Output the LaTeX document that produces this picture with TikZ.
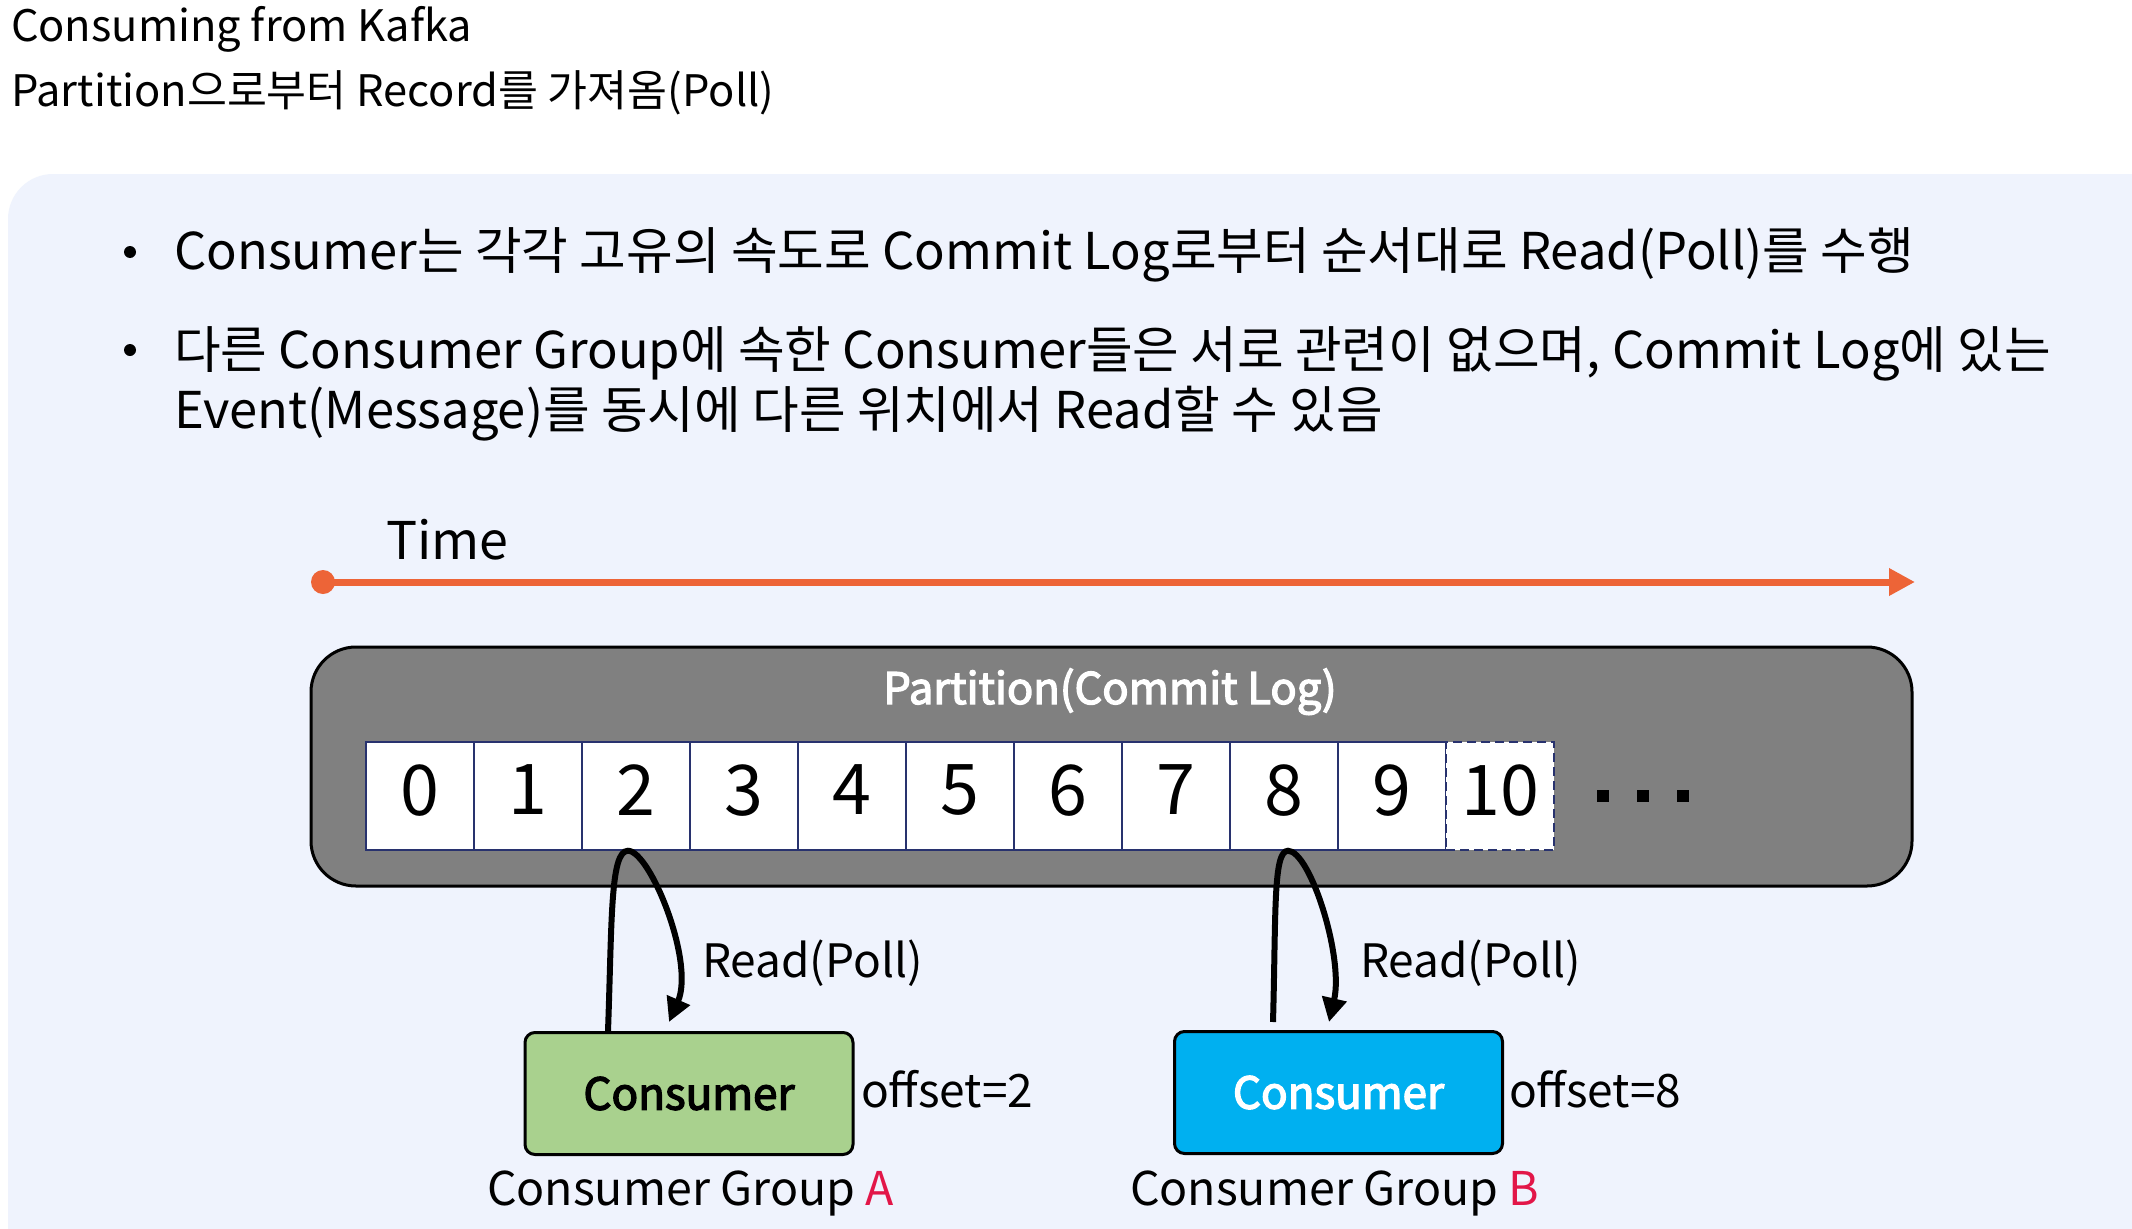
\documentclass[tikz,border=0pt]{standalone}
\usepackage{fontspec}
\setmainfont{Noto Sans CJK KR}
\newfontfamily\medfont{Noto Sans CJK KR}[FakeBold=3]
\usetikzlibrary{arrows.meta}
\definecolor{panelbg}{RGB}{239,243,253}
\definecolor{timeorange}{RGB}{237,100,55}
\definecolor{partgray}{RGB}{128,128,128}
\definecolor{cellnavy}{RGB}{40,50,110}
\definecolor{consgreen}{RGB}{169,209,142}
\definecolor{consblue}{RGB}{0,176,240}
\definecolor{grpred}{RGB}{226,22,72}
\newcommand{\fsz}[1]{\fontsize{#1}{#1}\selectfont}
\begin{document}
\begin{tikzpicture}[x=1pt,y=-1pt,
  txt/.style={anchor=base west,inner sep=0pt,outer sep=0pt},
  cell/.style={draw=cellnavy,fill=white,line width=1.5pt,minimum width=108pt,minimum height=108pt,inner sep=0pt,text depth=12pt,font=\fsz{70}},
  consbox/.style={draw=black,line width=3pt,rounded corners=10pt,minimum width=328pt,minimum height=122pt,inner sep=0pt,font=\medfont\fsz{44}},
  readarrow/.style={draw=black,line width=6pt,-{Triangle[length=24pt,width=24pt]}},
  bulletdot/.style={circle,fill=black,minimum size=12pt,inner sep=0pt},
  sqdot/.style={rectangle,fill=black,minimum size=12pt,inner sep=0pt}]
\useasboundingbox (0,0) rectangle (2132,1228);
\clip (0,0) rectangle (2132,1228);
\fill[white] (0,0) rectangle (2132,1228);
% panel
\fill[panelbg,rounded corners=45pt] (8,174) rectangle (2250,1350);
% title
\node[txt,font=\fsz{43.4}] (title1) at (11,42) {Consuming from Kafka};
\node[txt,font=\fsz{43.4}] (title2) at (11,107) {Partition으로부터 Record를 가져옴(Poll)};
% bullets
\node[bulletdot] (bd1) at (130,252) {};
\node[txt,font=\fsz{50.7}] (b1) at (174,269) {Consumer는 각각 고유의 속도로 Commit Log로부터 순서대로 Read(Poll)를 수행};
\node[bulletdot] (bd2) at (130,350) {};
\node[txt,font=\fsz{50.7}] (b2) at (174,368) {다른 Consumer Group에 속한 Consumer들은 서로 관련이 없으며, Commit Log에 있는};
\node[txt,font=\fsz{50.7}] (b3) at (174,428) {Event(Message)를 동시에 다른 위치에서 Read할 수 있음};
% time
\node[txt,font=\fsz{52}] (time) at (386,559) {Time};
\node[circle,fill=timeorange,minimum size=24pt,inner sep=0pt] (t0) at (323,582) {};
\coordinate (t1) at (1915,582);
\draw[timeorange,line width=7pt,-{Triangle[length=26pt,width=26pt]}] (t0.center) -- (t1);
% partition
\node[draw=black,fill=partgray,line width=3pt,rounded corners=45pt,minimum width=1601pt,minimum height=239pt,inner sep=0pt] (part) at (1111.5,766.5) {};
\node[anchor=base,inner sep=0pt,text=white,font=\medfont\fsz{43.5}] (ptitle) at (1110,704) {Partition(Commit Log)};
\node[cell] (c0) at (420,796) {0};
\node[cell] (c1) at (528,796) {1};
\node[cell] (c2) at (636,796) {2};
\node[cell] (c3) at (744,796) {3};
\node[cell] (c4) at (852,796) {4};
\node[cell] (c5) at (960,796) {5};
\node[cell] (c6) at (1068,796) {6};
\node[cell] (c7) at (1176,796) {7};
\node[cell] (c8) at (1284,796) {8};
\node[cell] (c9) at (1392,796) {9};
\node[cell,line width=2pt,dash pattern=on 9pt off 5pt] (c10) at (1500,796) {10};
\node[sqdot] (d1) at (1603,796) {};
\node[sqdot] (d2) at (1643,796) {};
\node[sqdot] (d3) at (1683,796) {};
% consumers
\node[consbox,fill=consgreen,text=black] (cA) at (689,1093.5) {Consumer};
\node[consbox,fill=consblue,text=white] (cB) at (1338.5,1092.5) {Consumer};
\node[txt,font=\fsz{46}] (offA) at (861,1107) {offset=2};
\node[txt,font=\fsz{46}] (offB) at (1509,1107) {offset=8};
\node[txt,font=\fsz{46.5}] (grpA) at (487,1205) {Consumer Group \textcolor{grpred}{A}};
\node[txt,font=\fsz{46.5}] (grpB) at (1130,1205) {Consumer Group \textcolor{grpred}{B}};
\node[txt,font=\fsz{46}] (rpA) at (702,977) {Read(Poll)};
\node[txt,font=\fsz{46}] (rpB) at (1360,977) {Read(Poll)};
% read arrows
\draw[readarrow] ([xshift=-81pt]cA.north) .. controls +(4,-110) and +(-18,0) .. ([xshift=-8pt]c2.south) .. controls +(22,0) and +(26,-60) .. ([xshift=-20pt,yshift=9pt]cA.north);
\draw[readarrow] ([xshift=-65.5pt,yshift=8pt]cB.north) .. controls +(3,-110) and +(-15,0) .. ([xshift=4pt]c8.south) .. controls +(22,0) and +(15,-65) .. ([xshift=-9.5pt,yshift=8pt]cB.north);
\end{tikzpicture}
\end{document}
